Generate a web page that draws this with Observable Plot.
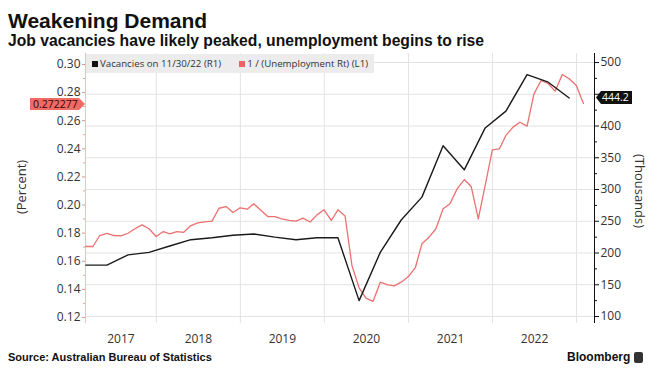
<!DOCTYPE html>
<html>
<head>
<meta charset="utf-8">
<script src="https://cdn.jsdelivr.net/npm/d3@7"></script>
<script src="https://cdn.jsdelivr.net/npm/@observablehq/plot@0.6"></script>
<style>
  html, body { margin: 0; padding: 0; background: #fff; }
  #wrap { position: relative; width: 662px; height: 376px; overflow: hidden; font-family: "Open Sans", sans-serif; color: #333; }
  #wrap svg { position: absolute; left: 0; top: 50px; overflow: visible; }
  .title { position: absolute; left: 8px; top: 10px; font: bold 21px/21px "Liberation Sans", Arial, sans-serif; color: #111; white-space: nowrap; }
  .subtitle { position: absolute; left: 8px; top: 33px; font: bold 15.7px/15px "Liberation Sans", Arial, sans-serif; color: #111; white-space: nowrap; }
  .legend { position: absolute; left: 86px; top: 54px; width: 288px; height: 19px; background: #ececec; font: 9.7px/19px "Open Sans", sans-serif; color: #333; white-space: nowrap; z-index: 5; }
  .legend .sw { display: inline-block; width: 6px; height: 6px; margin: 0 2px 0 6px; vertical-align: 0px; }
  .axt { position: absolute; font: 13px/13px "Open Sans", sans-serif; color: #333; white-space: nowrap; z-index: 5; }
  .vbox { position: absolute; font: 10.5px/12px "Open Sans", sans-serif; white-space: nowrap; z-index: 6; box-sizing: border-box; }
  .footer { position: absolute; left: 8px; top: 351px; font: bold 11px/12px "Liberation Sans", Arial, sans-serif; color: #111; white-space: nowrap; }
  .brand { position: absolute; left: 567px; top: 350px; font: bold 12px/14px "Liberation Sans", Arial, sans-serif; color: #111; white-space: nowrap; }
  .brand .ic { display: inline-block; width: 9px; height: 11px; background: #333; border-radius: 2px; margin-left: 4px; vertical-align: -2px; }
</style>
</head>
<body>
<div id="wrap">
  <div class="title">Weakening Demand</div>
  <div class="subtitle">Job vacancies have likely peaked, unemployment begins to rise</div>
  <div class="footer">Source: Australian Bureau of Statistics</div>
  <div class="brand">Bloomberg<span class="ic"></span></div>
</div>
<script>
// ---------------- data ----------------
const seriesNames = ["Vacancies on 11/30/22 (R1)", "1 / (Unemployment Rt) (L1)"];
const axisTitles = ["(Percent)", "(Thousands)"];

// Job vacancies, thousands (quarterly: Feb, May, Aug, Nov; Feb 2017 .. Nov 2022)
const vacStart = [2017, 2];            // year, month (Feb)
const vacancies = [181, 181, 197, 201, 211, 221, 224, 228, 230, 225, 221, 224,
                   224, 125, 201, 252, 288, 369, 331, 397, 423.5, 481, 469, 444.2];

// 1 / unemployment rate (monthly: Feb 2017 .. Jan 2023)
const unempStart = [2017, 2];
const invUnemp = [
  0.1705, 0.1705, 0.1783, 0.1799, 0.1783, 0.1780, 0.1799, 0.1831, 0.1859, 0.1831, 0.1776,
  0.1811, 0.1795, 0.1811, 0.1806, 0.1854, 0.1873, 0.1880, 0.1885, 0.1977, 0.1989, 0.1947, 0.1980, 0.1970,
  0.2009, 0.1963, 0.1918, 0.1918, 0.1902, 0.1890, 0.1886, 0.1907, 0.1879, 0.1930, 0.1966, 0.1890,
  0.1966, 0.1922, 0.1569, 0.1411, 0.1337, 0.1315, 0.1451, 0.1434, 0.1425, 0.1451, 0.1491, 0.1557,
  0.1724, 0.1771, 0.1831, 0.1973, 0.2009, 0.2115, 0.2181, 0.2132, 0.1902, 0.2139, 0.2393, 0.2400,
  0.2495, 0.2554, 0.2589, 0.2561, 0.2791, 0.2886, 0.2863, 0.2810, 0.2929, 0.2898, 0.2851, 0.272277
];

const leftTicks = [0.12, 0.14, 0.16, 0.18, 0.20, 0.22, 0.24, 0.26, 0.28, 0.30];
const leftMinor = [0.13, 0.15, 0.17, 0.19, 0.21, 0.23, 0.25, 0.27, 0.29];
const rightTicks = [100, 150, 200, 250, 300, 350, 400, 450, 500];
const rightLabelHidden = [450];        // covered by the last-value box in the reference
const rightMinor = [125, 175, 225, 275, 325, 375, 425, 475];
const yearLabels = ["2017", "2018", "2019", "2020", "2021", "2022"];
const gridYears = [2018, 2019, 2020, 2021, 2022, 2023];

const lastUnempLabel = "0.272277";
const lastVacLabel = "444.2";

// ---------------- tables ----------------
const monthEnd = (y, m, i) => d3.utcDay.offset(new Date(Date.UTC(y, m - 1 + i + 1, 1)), -1);
const vacData = vacancies.map((v, i) => ({date: monthEnd(vacStart[0], vacStart[1], i * 3), value: v}));
const unData = invUnemp.map((v, i) => ({date: monthEnd(unempStart[0], unempStart[1], i), value: v}));

const xDomain = [new Date(Date.UTC(2017, 1, 27)), new Date(Date.UTC(2023, 2, 20))];
const leftDomain = [0.1157, 0.3078];
const rightDomain = [89, 514.2];
const gridDates = gridYears.map(y => new Date(Date.UTC(y, 0, 1)));
const labelDates = yearLabels.map(s => {
  const y = +s;
  const a = new Date(Math.max(Date.UTC(y, 0, 1), +xDomain[0]));
  const b = new Date(Math.min(Date.UTC(y + 1, 0, 1), +xDomain[1]));
  return new Date((+a + +b) / 2);
});

const W = 662, H = 300;
const common = {
  width: W, height: H,
  marginLeft: 85, marginRight: 68, marginTop: 3, marginBottom: 27,
  style: {background: "transparent", fontFamily: "Open Sans, sans-serif", fontSize: "12px", color: "#333", overflow: "visible"}
};

// layer 1: grid (follows right axis)
const gridChart = Plot.plot({
  ...common,
  x: {type: "utc", domain: xDomain, axis: null},
  y: {domain: rightDomain, axis: null},
  marks: [
    Plot.ruleY(rightTicks, {stroke: "#e3e3e3", strokeWidth: 1}),
    Plot.ruleX(gridDates, {stroke: "#e3e3e3", strokeWidth: 1})
  ]
});

// layer 2: left scale, red line, x labels
const leftChart = Plot.plot({
  ...common,
  x: {type: "utc", domain: xDomain, axis: null},
  y: {domain: leftDomain, axis: null},
  marks: [
    Plot.ruleX([xDomain[0]], {stroke: "#f5bdbd", strokeWidth: 1}),
    Plot.axisY(leftMinor, {anchor: "left", tickSize: 2, tickFormat: () => "", stroke: "#f0a0a0", label: null}),
    Plot.axisY(leftTicks, {anchor: "left", tickSize: 3, tickPadding: 2, tickFormat: d3.format(".2f"),
      stroke: "#ee8a8a", fill: "#333", fontSize: 12, label: null}),
    Plot.axisX(labelDates, {anchor: "bottom", tickSize: 0, tickPadding: 11,
      tickFormat: d => String(d.getUTCFullYear()), fill: "#333", fontSize: 12, label: null}),
    Plot.line(unData, {x: "date", y: "value", stroke: "#ec7070", strokeWidth: 1.3, clip: true})
  ]
});

// layer 3: right scale, black line
const rightChart = Plot.plot({
  ...common,
  x: {type: "utc", domain: xDomain, axis: null},
  y: {domain: rightDomain, axis: null},
  marks: [
    Plot.ruleX([xDomain[1]], {stroke: "#111", strokeWidth: 1}),
    Plot.axisY(rightMinor, {anchor: "right", tickSize: 2, tickFormat: () => "", stroke: "#111", label: null}),
    Plot.axisY(rightTicks, {anchor: "right", tickSize: 4, tickPadding: 2,
      tickFormat: d => rightLabelHidden.includes(d) ? "" : String(d),
      stroke: "#111", fill: "#333", fontSize: 12, label: null}),
    Plot.line(vacData, {x: "date", y: "value", stroke: "#1a1a1a", strokeWidth: 1.4, clip: true})
  ]
});

const wrap = document.getElementById("wrap");
wrap.appendChild(gridChart);
wrap.appendChild(leftChart);
wrap.appendChild(rightChart);

// legend
const legend = document.createElement("div");
legend.className = "legend";
legend.innerHTML = `<span class="sw" style="background:#111"></span>${seriesNames[0]}` +
  `<span class="sw" style="background:#ec6464;margin-left:18px"></span>${seriesNames[1]}`;
wrap.appendChild(legend);

// axis titles
const lt = document.createElement("div");
lt.className = "axt"; lt.textContent = axisTitles[0];
lt.style.left = "21px"; lt.style.top = "187px"; lt.style.transform = "translate(-50%,-50%) rotate(-90deg)";
wrap.appendChild(lt);
const rt = document.createElement("div");
rt.className = "axt"; rt.textContent = axisTitles[1];
rt.style.left = "639px"; rt.style.top = "191px"; rt.style.transform = "translate(-50%,-50%) rotate(90deg)";
wrap.appendChild(rt);

// last value boxes
const yL = leftChart.scale("y"), yR = rightChart.scale("y");
const redY = yL.apply(invUnemp[invUnemp.length - 1]) + 50;
const blkY = yR.apply(vacancies[vacancies.length - 1]) + 50;

const rb = document.createElement("div");
rb.className = "vbox"; rb.textContent = lastUnempLabel;
Object.assign(rb.style, {left: "30px", top: (redY - 5) + "px", width: "55px", height: "12px",
  background: "#f06a66", color: "#3a0505", paddingLeft: "3px",
  clipPath: "polygon(0 0, calc(100% - 6px) 0, 100% 50%, calc(100% - 6px) 100%, 0 100%)"});
wrap.appendChild(rb);

const bb = document.createElement("div");
bb.className = "vbox"; bb.textContent = lastVacLabel;
Object.assign(bb.style, {left: "596px", top: (blkY - 6.5) + "px", width: "36px", height: "13px",
  background: "#111", color: "#fff", paddingLeft: "6px", lineHeight: "13px",
  clipPath: "polygon(0 50%, 5px 0, 100% 0, 100% 100%, 5px 100%)"});
wrap.appendChild(bb);
</script>
</body>
</html>
